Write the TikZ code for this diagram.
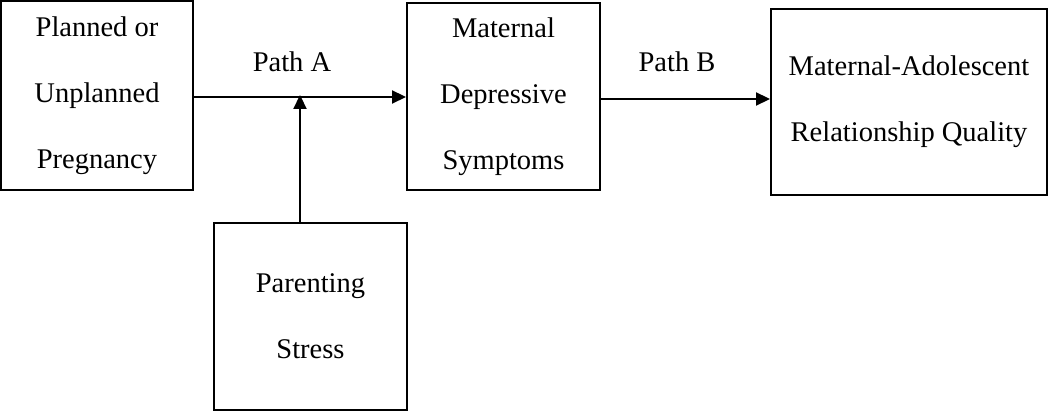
\documentclass[tikz,border=0pt]{standalone}
\usepackage{fontspec}
\setmainfont{Liberation Serif}
\usetikzlibrary{arrows.meta}
\begin{document}
\begin{tikzpicture}[x=1pt,y=-1pt,
  box/.style={draw,line width=2pt,inner sep=0pt,align=center,
    font=\fontsize{28.5}{66}\selectfont},
  lbl/.style={font=\fontsize{28.5}{32}\selectfont,inner sep=0pt},
  conn/.style={line width=2.2pt,-{Triangle[length=14pt,width=13pt]}}]
\useasboundingbox (0,0) rectangle (1050,411);
\node[box,minimum width=192pt,minimum height=189pt] (b1) at (97,95.5) {Planned or\\Unplanned\\Pregnancy};
\node[box,minimum width=193pt,minimum height=187pt] (b2) at (503.5,96.5) {Maternal\\Depressive\\Symptoms};
\node[box,minimum width=276pt,minimum height=186pt] (b3) at (909,102) {Maternal-Adolescent\\Relationship Quality};
\node[box,minimum width=193pt,minimum height=187pt] (b4) at (310.5,316.5) {Parenting\\Stress};
\coordinate (a1) at (193,97);
\coordinate (m) at (300,97);
\coordinate (a2) at (600,99);
\draw[conn] (a1) -- (a1 -| b2.west);
\draw[conn] (b4.north -| m) -- ([yshift=2pt]m);
\draw[conn] (a2) -- (a2 -| b3.west);
\node[lbl] (pa) at (292,62) {Path A};
\node[lbl] (pb) at (677,62) {Path B};
\end{tikzpicture}
\end{document}
